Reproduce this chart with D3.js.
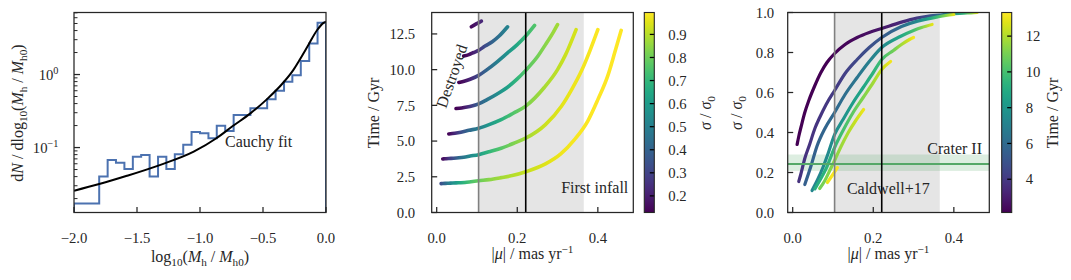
<!DOCTYPE html>
<html><head><meta charset="utf-8">
<script src="https://cdn.jsdelivr.net/npm/d3@7"></script>
<style>
body{margin:0;background:#fff;}
svg{font-family:"Liberation Serif","Times New Roman",serif;}
</style></head><body>
<svg id="c" width="1071" height="280"></svg>
<script>
// ---------------- data ----------------
// Left panel: histogram (bin edges & heights) and Cauchy fit curve
const histEdges = [-2.000,-1.933,-1.867,-1.800,-1.733,-1.667,-1.600,-1.533,-1.467,-1.400,-1.333,-1.267,-1.200,-1.133,-1.067,-1.000,-0.933,-0.867,-0.800,-0.733,-0.667,-0.600,-0.533,-0.467,-0.400,-0.333,-0.267,-0.200,-0.133,-0.067,0.000];
const histValues = [0.0172,0.0172,0.0172,0.040,0.0674,0.062,0.051,0.0748,0.079,0.040,0.0748,0.051,0.0807,0.109,0.163,0.157,0.134,0.199,0.168,0.279,0.279,0.344,0.344,0.457,0.60,0.797,0.98,1.53,2.67,5.13];
const fitX = [-2.0,-1.8,-1.58,-1.32,-1.05,-0.87,-0.74,-0.60,-0.47,-0.34,-0.26,-0.21,-0.14,-0.07,-0.02,0.0];
const fitY = [0.0256,0.0316,0.041,0.0575,0.0877,0.134,0.197,0.294,0.457,0.772,1.15,1.58,2.54,4.07,5.1,5.3];
const leftXTicks = [-2.0,-1.5,-1.0,-0.5,0.0];
const leftYTicks = [0.1,1];

// Middle & right panels: tracks of (|mu|, time, sigma/sigma0)
const trackMu = [
 [0.011,0.015,0.021,0.03,0.04,0.054,0.07,0.085,0.104,0.13,0.16,0.19,0.221,0.27,0.308,0.342,0.375,0.40,0.425,0.443,0.458],
 [0.015,0.02,0.03,0.042,0.055,0.067,0.083,0.104,0.13,0.16,0.19,0.221,0.27,0.31,0.335,0.36,0.38,0.40],
 [0.03,0.045,0.06,0.08,0.104,0.13,0.16,0.19,0.221,0.267,0.30,0.32,0.346],
 [0.048,0.062,0.075,0.087,0.104,0.125,0.15,0.175,0.2,0.221,0.25,0.27,0.29,0.30],
 [0.055,0.07,0.083,0.104,0.125,0.15,0.175,0.2,0.221,0.243],
 [0.067,0.08,0.092,0.104,0.12,0.138,0.155,0.176],
 [0.086,0.098,0.111]
];
const trackTime = [
 [2.02,2.03,2.04,2.05,2.06,2.08,2.1,2.15,2.22,2.3,2.44,2.6,2.85,3.4,4.1,5.1,6.4,7.9,9.6,11.3,12.75],
 [3.75,3.76,3.78,3.8,3.83,3.87,3.95,4.05,4.25,4.5,4.83,5.2,6.15,7.45,8.6,9.95,11.3,12.8],
 [5.5,5.55,5.62,5.75,5.9,6.15,6.5,6.95,7.45,8.75,10.0,11.05,12.8],
 [7.28,7.32,7.38,7.45,7.6,7.9,8.3,8.75,9.35,9.95,10.9,11.75,12.65,13.15],
 [9.1,9.2,9.33,9.6,10.0,10.55,11.15,11.75,12.35,13.1],
 [10.95,11.05,11.2,11.35,11.65,11.95,12.35,13.0],
 [13.0,13.2,13.4]
];
const trackSigma = [
 [0.34,0.38,0.43,0.50,0.56,0.63,0.70,0.75,0.795,0.84,0.875,0.90,0.92,0.952,0.972,0.983,0.99,0.994,0.997,0.998,1.0],
 [0.155,0.19,0.27,0.34,0.42,0.475,0.54,0.61,0.695,0.765,0.825,0.875,0.93,0.957,0.968,0.978,0.985,0.99],
 [0.14,0.23,0.33,0.42,0.50,0.59,0.675,0.755,0.825,0.88,0.91,0.925,0.94],
 [0.11,0.165,0.225,0.29,0.39,0.465,0.55,0.625,0.70,0.765,0.81,0.84,0.865,0.875],
 [0.118,0.17,0.22,0.325,0.41,0.5,0.575,0.65,0.715,0.755],
 [0.12,0.16,0.21,0.26,0.33,0.40,0.455,0.515],
 [0.15,0.185,0.225]
];
const muBand = [0.104, 0.365];     // grey band
const muGreyLine = 0.104;
const muBlackLine = 0.221;
const craterBand = [0.208, 0.29];
const craterLine = 0.243;
const muTicks = [0.0,0.2,0.4];
const timeTicks = [0.0,2.5,5.0,7.5,10.0,12.5];
const sigmaTicks = [0.0,0.2,0.4,0.6,0.8,1.0];
const cbSigmaTicks = [0.2,0.3,0.4,0.5,0.6,0.7,0.8,0.9];
const cbTimeTicks = [4,6,8,10,12];
const cbSigmaDomain = [0.128, 0.995];
const cbTimeDomain = [2.14, 13.32];

// ---------------- layout ----------------
const svg = d3.select("#c");
const defs = svg.append("defs");
const TOP = 12.5, BOT = 212.5;
const TICK_FS = 14.7, LAB_FS = 16;
const axisColor = "#262626";

function rich(sel, parts, size){
  let shift = 0;
  parts.forEach(p=>{
    const ts = sel.append("tspan").text(p.t);
    const target = p.sub ? size*0.28 : (p.sup ? -size*0.38 : 0);
    const fs = (p.sub||p.sup) ? size*0.7 : size;
    ts.attr("font-size", fs);
    if (target !== shift){ ts.attr("dy", target - shift); shift = target; }
    if (p.i) ts.attr("font-style","italic");
  });
}

function frame(g, x0, x1){
  g.append("rect").attr("x",x0).attr("y",TOP).attr("width",x1-x0).attr("height",BOT-TOP)
   .attr("fill","none").attr("stroke",axisColor).attr("stroke-width",1.25);
}

function xTicks(g, x, ticks, fmt){
  ticks.forEach(v=>{
    const px = x(v);
    g.append("line").attr("x1",px).attr("x2",px).attr("y1",BOT).attr("y2",BOT-5.5)
      .attr("stroke",axisColor).attr("stroke-width",1.25);
    g.append("text").attr("x",px).attr("y",243).attr("text-anchor","middle")
      .attr("font-size",TICK_FS).attr("fill","#262626").text(fmt(v));
  });
}
function yTicks(g, y, ticks, x0, gap, fmt){
  ticks.forEach(v=>{
    const py = y(v);
    g.append("line").attr("x1",x0).attr("x2",x0+5.5).attr("y1",py).attr("y2",py)
      .attr("stroke",axisColor).attr("stroke-width",1.25);
    g.append("text").attr("x",x0-gap).attr("y",py).attr("dy","0.35em").attr("text-anchor","end")
      .attr("font-size",TICK_FS).attr("fill","#262626").text(fmt(v));
  });
}
const fmtMinus = f => v => d3.format(f)(v).replace("-","\u2212");

// ---------------- left panel ----------------
{
  const L = 74, R = 326;
  const g = svg.append("g");
  const x = d3.scaleLinear().domain([-2,0]).range([L,R]);
  const y = d3.scaleLog().domain([0.0129, 7.07]).range([BOT,TOP]);
  defs.append("clipPath").attr("id","clipL").append("rect").attr("x",L).attr("y",TOP).attr("width",R-L).attr("height",BOT-TOP);
  const pg = g.append("g").attr("clip-path","url(#clipL)");
  const pts = [[x(histEdges[0]), BOT+5]];
  histValues.forEach((v,i)=>{ pts.push([x(histEdges[i]), y(v)]); pts.push([x(histEdges[i+1]), y(v)]); });
  pts.push([x(histEdges[histEdges.length-1]), BOT+5]);
  pg.append("path").attr("d", d3.line()(pts)).attr("fill","none").attr("stroke","#4c72b0").attr("stroke-width",2);
  pg.append("path").attr("d", d3.line().x((d,i)=>x(fitX[i])).y(d=>y(d)).curve(d3.curveMonotoneX)(fitY))
    .attr("fill","none").attr("stroke","#000").attr("stroke-width",2);
  g.append("text").attr("x",225).attr("y",146.7).attr("font-size",LAB_FS).attr("fill","#262626").text("Cauchy fit");
  frame(g, L, R);
  xTicks(g, x, leftXTicks, fmtMinus(".1f"));
  const minor = [];
  [0.01,0.1,1].forEach(dec=>{ for(let k=2;k<=9;k++){ const v=dec*k; if(v>0.0129 && v<7.07) minor.push(v);} });
  minor.forEach(v=>{
    g.append("line").attr("x1",L).attr("x2",L+3.5).attr("y1",y(v)).attr("y2",y(v)).attr("stroke",axisColor).attr("stroke-width",1);
  });
  leftYTicks.forEach(v=>{
    const py = y(v);
    g.append("line").attr("x1",L).attr("x2",L+6).attr("y1",py).attr("y2",py).attr("stroke",axisColor).attr("stroke-width",1.25);
    const t = g.append("text").attr("x",L-15.5).attr("y",py+5).attr("text-anchor","end").attr("fill","#262626");
    rich(t, [{t:"10"},{t: v===1 ? "0" : "\u22121", sup:true}], TICK_FS);
  });
  const xl = g.append("text").attr("x",(L+R)/2).attr("y",262).attr("text-anchor","middle").attr("fill","#262626");
  rich(xl, [{t:"log"},{t:"10",sub:true},{t:"("},{t:"M",i:true},{t:"h",sub:true},{t:" / "},{t:"M",i:true},{t:"h0",sub:true},{t:")"}], LAB_FS);
  const yl = g.append("text").attr("transform","translate(23,113) rotate(-90)").attr("text-anchor","middle").attr("fill","#262626");
  rich(yl, [{t:"d"},{t:"N",i:true},{t:" / dlog"},{t:"10",sub:true},{t:"("},{t:"M",i:true},{t:"h",sub:true},{t:" / "},{t:"M",i:true},{t:"h0",sub:true},{t:")"}], LAB_FS);
}

// ---------------- tracks helper ----------------
function drawTracks(pg, x, y, yArr, cArr, cScale, prefix, width){
  trackMu.forEach((mus,k)=>{
    const pts = mus.map((m,i)=>[x(m), y(yArr[k][i])]);
    const x1 = pts[0][0], x2 = pts[pts.length-1][0];
    const gid = prefix+k;
    const grad = defs.append("linearGradient").attr("id",gid).attr("gradientUnits","userSpaceOnUse")
      .attr("x1",x1).attr("x2",x2).attr("y1",0).attr("y2",0);
    pts.forEach((p,i)=>{
      grad.append("stop").attr("offset",(p[0]-x1)/(x2-x1)).attr("stop-color", cScale(cArr[k][i]));
    });
    pg.append("path").attr("d", d3.line().curve(d3.curveMonotoneX)(pts))
      .attr("fill","none").attr("stroke","url(#"+gid+")").attr("stroke-width",width)
      .attr("stroke-linecap","round").attr("stroke-linejoin","round");
  });
}
function colorbar(x0, domain, ticks, id, fmt){
  const w = 10;
  const grad = defs.append("linearGradient").attr("id",id).attr("x1",0).attr("x2",0).attr("y1",1).attr("y2",0);
  for(let i=0;i<=20;i++) grad.append("stop").attr("offset",i/20).attr("stop-color",d3.interpolateViridis(i/20));
  const g = svg.append("g");
  g.append("rect").attr("x",x0).attr("y",TOP).attr("width",w).attr("height",BOT-TOP).attr("fill","url(#"+id+")");
  const s = d3.scaleLinear().domain(domain).range([BOT,TOP]);
  ticks.forEach(v=>{
    g.append("line").attr("x1",x0+w-4.5).attr("x2",x0+w).attr("y1",s(v)).attr("y2",s(v)).attr("stroke","#000").attr("stroke-width",1.25);
    g.append("text").attr("x",x0+w+14).attr("y",s(v)).attr("dy","0.35em").attr("font-size",TICK_FS).attr("fill","#262626").text(fmt(v));
  });
  g.append("rect").attr("x",x0).attr("y",TOP).attr("width",w).attr("height",BOT-TOP).attr("fill","none").attr("stroke",axisColor).attr("stroke-width",1.1);
  return g;
}
const muDomain = [-0.0124, 0.488];

// ---------------- middle panel ----------------
{
  const L = 431.7, R = 633.3;
  const g = svg.append("g");
  const x = d3.scaleLinear().domain(muDomain).range([L,R]);
  const y = d3.scaleLinear().domain([0,14]).range([BOT,TOP]);
  const c = d3.scaleSequential(d3.interpolateViridis).domain(cbSigmaDomain).clamp(true);
  defs.append("clipPath").attr("id","clipM").append("rect").attr("x",L).attr("y",TOP).attr("width",R-L).attr("height",BOT-TOP);
  const pg = g.append("g").attr("clip-path","url(#clipM)");
  pg.append("rect").attr("x",x(muBand[0])).attr("y",TOP).attr("width",x(muBand[1])-x(muBand[0])).attr("height",BOT-TOP).attr("fill","#e5e5e5");
  drawTracks(pg, x, y, trackTime, trackSigma, c, "gm", 3.6);
  pg.append("line").attr("x1",x(muGreyLine)).attr("x2",x(muGreyLine)).attr("y1",TOP).attr("y2",BOT).attr("stroke","#808080").attr("stroke-width",1.6);
  pg.append("line").attr("x1",x(muBlackLine)).attr("x2",x(muBlackLine)).attr("y1",TOP).attr("y2",BOT).attr("stroke","#000").attr("stroke-width",1.6);
  g.append("text").attr("x",R-5).attr("y",193.3).attr("text-anchor","end").attr("font-size",LAB_FS).attr("fill","#262626").text("First infall");
  g.append("text").attr("transform","translate(451.5,76) rotate(-71)").attr("text-anchor","middle").attr("dy","0.35em")
    .attr("font-size",LAB_FS).attr("fill","#262626").text("Destroyed");
  frame(g, L, R);
  xTicks(g, x, muTicks, d3.format(".1f"));
  yTicks(g, y, timeTicks, L, 16.5, d3.format(".1f"));
  const xl = g.append("text").attr("x",(L+R)/2).attr("y",259).attr("text-anchor","middle").attr("fill","#262626");
  rich(xl, [{t:"|"},{t:"\u03bc",i:true},{t:"| / mas yr"},{t:"\u22121",sup:true}], LAB_FS);
  g.append("text").attr("transform","translate(379,113) rotate(-90)").attr("text-anchor","middle")
    .attr("font-size",LAB_FS).attr("fill","#262626").text("Time / Gyr");
  const cb = colorbar(644.3, cbSigmaDomain, cbSigmaTicks, "cbS", d3.format(".1f"));
  const cl = cb.append("text").attr("transform","translate(711,113) rotate(-90)").attr("text-anchor","middle").attr("fill","#262626");
  rich(cl, [{t:"\u03c3",i:true},{t:" / "},{t:"\u03c3",i:true},{t:"0",sub:true}], LAB_FS);
}

// ---------------- right panel ----------------
{
  const L = 787.7, R = 989.3;
  const g = svg.append("g");
  const x = d3.scaleLinear().domain(muDomain).range([L,R]);
  const y = d3.scaleLinear().domain([0,1]).range([BOT,TOP]);
  const c = d3.scaleSequential(d3.interpolateViridis).domain(cbTimeDomain).clamp(true);
  defs.append("clipPath").attr("id","clipR").append("rect").attr("x",L).attr("y",TOP).attr("width",R-L).attr("height",BOT-TOP);
  const pg = g.append("g").attr("clip-path","url(#clipR)");
  pg.append("rect").attr("x",x(muBand[0])).attr("y",TOP).attr("width",x(muBand[1])-x(muBand[0])).attr("height",BOT-TOP).attr("fill","#e5e5e5");
  pg.append("rect").attr("x",L).attr("y",y(craterBand[1])).attr("width",R-L).attr("height",y(craterBand[0])-y(craterBand[1]))
    .attr("fill","#55a868").attr("fill-opacity",0.2);
  drawTracks(pg, x, y, trackSigma, trackTime, c, "gr", 3.2);
  pg.append("line").attr("x1",L).attr("x2",R).attr("y1",y(craterLine)).attr("y2",y(craterLine)).attr("stroke","#55a868").attr("stroke-width",2);
  pg.append("line").attr("x1",x(muGreyLine)).attr("x2",x(muGreyLine)).attr("y1",TOP).attr("y2",BOT).attr("stroke","#808080").attr("stroke-width",1.6);
  pg.append("line").attr("x1",x(muBlackLine)).attr("x2",x(muBlackLine)).attr("y1",TOP).attr("y2",BOT).attr("stroke","#000").attr("stroke-width",1.6);
  g.append("text").attr("x",982).attr("y",153.7).attr("text-anchor","end").attr("font-size",LAB_FS).attr("fill","#262626").text("Crater II");
  g.append("text").attr("x",888.3).attr("y",193.7).attr("text-anchor","middle").attr("font-size",LAB_FS).attr("fill","#262626").text("Caldwell+17");
  frame(g, L, R);
  xTicks(g, x, muTicks, d3.format(".1f"));
  yTicks(g, y, sigmaTicks, L, 13.5, d3.format(".1f"));
  const xl = g.append("text").attr("x",(L+R)/2).attr("y",259).attr("text-anchor","middle").attr("fill","#262626");
  rich(xl, [{t:"|"},{t:"\u03bc",i:true},{t:"| / mas yr"},{t:"\u22121",sup:true}], LAB_FS);
  const yl = g.append("text").attr("transform","translate(742,113) rotate(-90)").attr("text-anchor","middle").attr("fill","#262626");
  rich(yl, [{t:"\u03c3",i:true},{t:" / "},{t:"\u03c3",i:true},{t:"0",sub:true}], LAB_FS);
  const cb = colorbar(1001.7, cbTimeDomain, cbTimeTicks, "cbT", d3.format("d"));
  cb.append("text").attr("transform","translate(1058,113) rotate(-90)").attr("text-anchor","middle")
    .attr("font-size",LAB_FS).attr("fill","#262626").text("Time / Gyr");
}
</script>
</body></html>
